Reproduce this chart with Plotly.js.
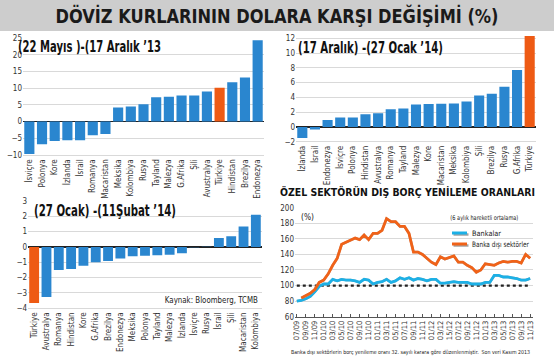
<!DOCTYPE html>
<html><head><meta charset="utf-8">
<script src="https://cdn.plot.ly/plotly-3.0.1.min.js"></script>
<style>html,body{margin:0;padding:0;background:#fff}#c{width:554px;height:362px}</style>
</head><body><div id="c"></div>
<script>
const FONT = "'DejaVu Sans Condensed', 'DejaVu Sans', sans-serif";
const BLUE = "#2a86cf", ORANGE = "#ee5a14", CYAN = "#1cb0e6", LORANGE = "#f06218", SHADOW = "#a3a3a3";

// Panel 1: (22 Mayıs)-(17 Aralık '13)
const cats1 = ["İsviçre","Polonya","Kore","İzlanda","İsrail","Romanya","Macaristan","Meksika","Kolombiya","Rusya","Tayland","Malezya","G.Afrika","Şili","Avustralya","Türkiye","Hindistan","Brezilya","Endonezya"];
const vals1 = [-9.7,-6.8,-5.8,-5.6,-5.6,-4.1,-3.7,4.2,4.5,5.2,7.3,7.4,7.8,7.8,9.0,10.1,11.8,13.2,24.3];

// Panel 2: (17 Aralık)-(27 Ocak '14)
const cats2 = ["İzlanda","İsrail","Endonezya","İsviçre","Polonya","Hindistan","Avustralya","Romanya","Tayland","Malezya","Kore","Macaristan","Meksika","Kolombiya","Şili","Brezilya","Rusya","G.Afrika","Türkiye"];
const vals2 = [-1.5,-0.35,0.95,1.27,1.27,1.73,1.86,2.4,2.5,3.05,3.1,3.14,3.18,3.45,4.27,4.5,5.45,7.7,12.3];

// Panel 3: (27 Ocak)-(11 Şubat '14)
const cats3 = ["Türkiye","Avustralya","Romanya","Hindistan","Kore","G.Afrika","Brezilya","Endonezya","Meksika","Polonya","Tayland","Malezya","İzlanda","İsviçre","Rusya","İsrail","Şili","Macaristan","Kolombiya"];
const vals3 = [-3.65,-3.26,-1.5,-1.43,-1.22,-1.0,-0.91,-0.76,-0.6,-0.57,-0.54,-0.5,-0.41,-0.02,0.02,0.59,0.7,1.33,2.1];

// Panel 4: borç yenileme oranları (monthly, 6-month moving average)
const months = ["07/09","08/09","09/09","10/09","11/09","12/09",
 "01/10","02/10","03/10","04/10","05/10","06/10","07/10","08/10","09/10","10/10","11/10","12/10",
 "01/11","02/11","03/11","04/11","05/11","06/11","07/11","08/11","09/11","10/11","11/11","12/11",
 "01/12","02/12","03/12","04/12","05/12","06/12","07/12","08/12","09/12","10/12","11/12","12/12",
 "01/13","02/13","03/13","04/13","05/13","06/13","07/13","08/13","09/13","10/13","11/13"];
const tickLabels = ["07/09","09/09","11/09","01/10","03/10","05/10","07/10","09/10","11/10","01/11","03/11","05/11","07/11","09/11","11/11","01/12","03/12","15/12","07/12","09/12","11/12","01/13","03/13","05/13","07/13","09/13","11/13"];
const bankalar = [80,81,83,86,92,99,102,102,108,106,108,107,107,106,104,108,107,102,104,105,108,104,106,110,108,110,107,109,108,106,108,108,103,103,104,105,104,104,104,102,102,102,104,104,113,113,111,111,110,109,107,107,109];
const bankaDisi = [null,84,87,90,95,104,107,115,126,135,153,156,158,161,159,165,159,167,167,171,186,182,182,176,176,167,143,143,140,135,130,127,137,134,136,138,130,130,126,123,117,120,128,127,126,129,131,130,131,131,129,140,135];
const seriesNames = ["Bankalar","Banka dışı sektörler"];

const H = 362, W = 554;
const px = v => v / W, py = v => 1 - v / H;
const colorsFor = cats => cats.map(c => c === "Türkiye" ? ORANGE : BLUE);

const data = [
  {type:"bar", x:cats1, y:vals1, marker:{color:colorsFor(cats1)}, xaxis:"x", yaxis:"y", showlegend:false},
  {type:"bar", x:cats2, y:vals2, marker:{color:colorsFor(cats2)}, xaxis:"x2", yaxis:"y2", showlegend:false},
  {type:"bar", x:cats3, y:vals3, marker:{color:colorsFor(cats3)}, xaxis:"x3", yaxis:"y3", showlegend:false},
  {type:"scatter", mode:"lines", x:months, y:months.map(()=>100), line:{color:"#222", width:2.2, dash:"dot"}, xaxis:"x4", yaxis:"y4", showlegend:false},
  {type:"scatter", mode:"lines", x:months, y:bankaDisi, line:{color:SHADOW, width:2.5}, xaxis:"x5", yaxis:"y5", showlegend:false},
  {type:"scatter", mode:"lines", x:months, y:bankalar, line:{color:SHADOW, width:2.5}, xaxis:"x5", yaxis:"y5", showlegend:false},
  {type:"scatter", mode:"lines", name:seriesNames[0], x:months, y:bankalar, line:{color:CYAN, width:2.8}, xaxis:"x6", yaxis:"y6", showlegend:false},
  {type:"scatter", mode:"lines", name:seriesNames[1], x:months, y:bankaDisi, line:{color:LORANGE, width:2.8}, xaxis:"x6", yaxis:"y6", showlegend:false}
];

const tickf = {family:FONT, size:8, color:"#333"};
const barX = dom => ({domain:dom, type:"category", tickangle:-90, tickfont:tickf, showgrid:false, ticks:"", showline:false});
const barY = (dom, rng, dt) => ({domain:dom, range:rng, dtick:dt, tickfont:tickf, gridcolor:"#d9d9d9", gridwidth:1, zeroline:true, zerolinecolor:"#222", zerolinewidth:1.5, showline:false, ticks:""});

const xdom4 = [px(295), px(533.3)], ydom4 = [py(316.7), py(207.7)];
const sh = 1.6;

// text boxes: [text, left/right x, y, anchor, size, target width, bold]
const notes = [
  ["(22 Mayıs )-(17 Aralık ’13", 16, 47, "left", 15, 143, true],
  ["(17 Aralık) -(27 Ocak ’14)", 296, 48, "left", 15, 145, true],
  ["(27 Ocak) -(11Şubat ’14)", 32, 211, "left", 15, 142, true],
  ["Kaynak: Bloomberg, TCMB", 260, 300, "right", 8.5, 93, false],
  ["ÖZEL SEKTÖRÜN DIŞ BORÇ YENİLEME ORANLARI", 278, 192, "left", 11, 255, true],
  ["(%)", 299, 217, "left", 9, 13, false],
  ["(6 aylık hareketli ortalama)", 520, 218, "right", 6.5, 68, false],
  [seriesNames[0], 470, 233, "left", 7.5, 29, false],
  [seriesNames[1], 470, 244, "left", 7.5, 57, false],
  ["Banka dışı sektörlerin borç yenileme oranı 32. sayılı karara göre düzenlenmiştir.  Son veri Kasım 2013", 289, 352.5, "left", 5.5, 239, false]
];

const layout = {
  width:W, height:H, margin:{l:0,r:0,t:0,b:0},
  paper_bgcolor:"#ffffff", plot_bgcolor:"rgba(0,0,0,0)",
  font:{family:FONT, color:"#222"},
  bargap:0.2, showlegend:false,
  title:{text:"<b>DÖVİZ KURLARININ DOLARA KARŞI DEĞİŞİMİ (%)</b>", x:0.5, xanchor:"center", y:py(16), yanchor:"middle", font:{family:FONT, size:19.5, color:"#1a1a1a"}},
  xaxis: barX([px(23), px(264)]),
  yaxis: Object.assign(barY([py(156.7), py(38)], [-10.5, 25], 5), {anchor:"x"}),
  xaxis2: Object.assign(barX([px(296), px(536)]), {anchor:"y2"}),
  yaxis2: Object.assign(barY([py(143.2), py(36.1)], [-2.2, 12.3], 2), {anchor:"x2"}),
  xaxis3: Object.assign(barX([px(28), px(262)]), {anchor:"y3"}),
  yaxis3: Object.assign(barY([py(309.8), py(201)], [-4.1, 3], 1), {anchor:"x3"}),
  xaxis4: {domain:xdom4, anchor:"y4", type:"category", categoryarray:months, range:[-0.4, 52.7], tickmode:"array",
           tickvals: months.filter((m,i)=>i%2===0), ticktext: tickLabels, tickangle:-90,
           tickfont:{family:FONT, size:7.5, color:"#333"}, showgrid:false, showline:true, linecolor:"#555", linewidth:1,
           ticks:"inside", ticklen:3, tickcolor:"#555"},
  yaxis4: {domain:ydom4, anchor:"x4", range:[60,200], dtick:20, tickfont:tickf, gridcolor:"#d9d9d9", zeroline:false, showline:false, ticks:""},
  xaxis5: {domain:[xdom4[0]+sh/W, xdom4[1]+sh/W], anchor:"y5", type:"category", categoryarray:months, range:[-0.4, 52.7], visible:false, overlaying:"x4"},
  yaxis5: {domain:[ydom4[0]-sh/H, ydom4[1]-sh/H], anchor:"x5", range:[60,200], visible:false, overlaying:"y4"},
  xaxis6: {domain:xdom4, anchor:"y6", type:"category", categoryarray:months, range:[-0.4, 52.7], visible:false, overlaying:"x4"},
  yaxis6: {domain:ydom4, anchor:"x6", range:[60,200], visible:false, overlaying:"y4"},
  shapes:[
    {type:"rect", xref:"paper", yref:"paper", x0:0, x1:1, y0:py(31), y1:1, fillcolor:"#cdcdcd", line:{width:0}, layer:"below"},
    {type:"line", xref:"paper", yref:"paper", x0:px(453.5), x1:px(468.5), y0:py(234.5), y1:py(234.5), line:{color:SHADOW, width:2.5}},
    {type:"line", xref:"paper", yref:"paper", x0:px(452), x1:px(467), y0:py(233), y1:py(233), line:{color:CYAN, width:3}},
    {type:"line", xref:"paper", yref:"paper", x0:px(453.5), x1:px(468.5), y0:py(245.5), y1:py(245.5), line:{color:SHADOW, width:2.5}},
    {type:"line", xref:"paper", yref:"paper", x0:px(452), x1:px(467), y0:py(244), y1:py(244), line:{color:LORANGE, width:3}}
  ],
  annotations: notes.map(n => ({text: n[6] ? "<b>"+n[0]+"</b>" : n[0], xref:"paper", yref:"paper", x:px(n[1]), y:py(n[2]),
     xanchor:n[3], yanchor:"middle", showarrow:false, font:{family:FONT, size:n[4], color: n[6] ? "#111" : "#222"}}))
};

function squeeze(textEl, target, anchor) {
  const bb = textEl.getBBox();
  if (!bb.width) return;
  let nx = bb.x;
  if (anchor === "right") nx = bb.x + bb.width - target;
  else if (anchor === "center") nx = bb.x + (bb.width - target) / 2;
  textEl.setAttribute("text-anchor", "start");
  textEl.setAttribute("x", nx);
  textEl.setAttribute("textLength", target);
  textEl.setAttribute("lengthAdjust", "spacingAndGlyphs");
}

Plotly.newPlot("c", data, layout, {staticPlot:true, displayModeBar:false}).then(gd => {
  gd.querySelectorAll("g.annotation").forEach(g => {
    const i = +g.getAttribute("data-index");
    const t = g.querySelector("text.annotation-text");
    if (t && notes[i]) squeeze(t, notes[i][5], notes[i][3]);
  });
  const tt = gd.querySelector("text.gtitle");
  if (tt) squeeze(tt, 443, "center");
});
</script></body></html>
